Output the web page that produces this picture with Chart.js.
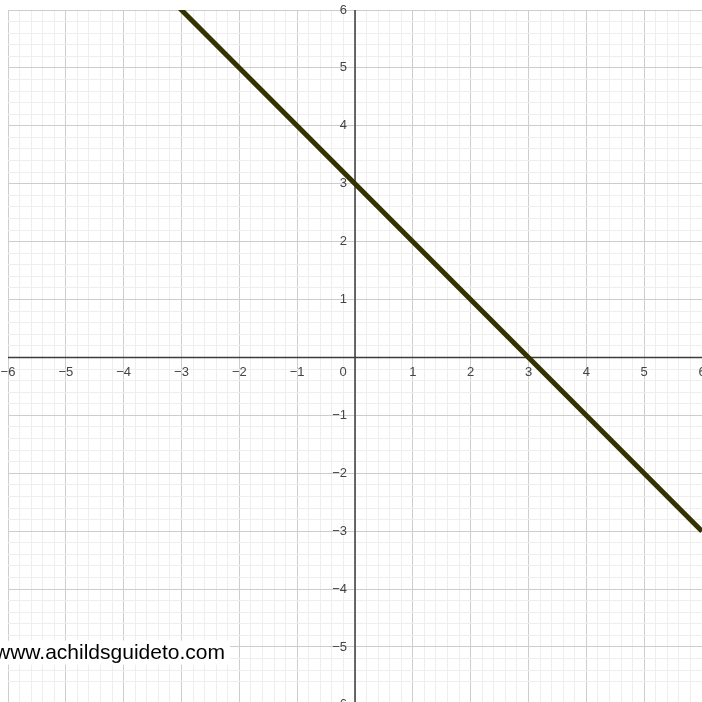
<!DOCTYPE html>
<html>
<head>
<meta charset="utf-8">
<script src="https://cdn.jsdelivr.net/npm/chart.js@4/dist/chart.umd.min.js"></script>
<style>
  html, body { margin: 0; padding: 0; background: #fff; }
  #wrap { width: 702px; height: 702px; }
</style>
</head>
<body>
<div id="wrap"><canvas id="graph" width="702" height="702"></canvas></div>
<script>
// line y = -x + 3
const xValues = [-6, -3, 0, 3, 6];
const yValues = [9, 6, 3, 0, -3];

// axis tick labels
const xTickLabels = [-6, -5, -4, -3, -2, -1, 1, 2, 3, 4, 5, 6];
const yTickLabels = [-6, -5, -4, -3, -2, -1, 1, 2, 3, 4, 5, 6];

const watermark = 'www.achildsguideto.com';

const isWhole = v => Math.abs(v - Math.round(v)) < 1e-9;
const fmt = v => (v < 0 ? '\u2212' + Math.abs(v) : String(v));

const gridColor = ctx => {
    const v = ctx.tick.value;
    if (isWhole(v)) return '#cdcdcd';
    return '#eeeeee';
};

// axes + labels under the line
const axesPlugin = {
    id: 'axes',
    beforeDatasetsDraw(chart) {
        const { ctx, chartArea, scales } = chart;
        const x0 = scales.x.getPixelForValue(0);
        const y0 = scales.y.getPixelForValue(0);
        ctx.save();
        ctx.strokeStyle = '#3c3c3c';
        ctx.lineWidth = 1.5;
        ctx.beginPath();
        ctx.moveTo(chartArea.left, y0);
        ctx.lineTo(chartArea.right, y0);
        ctx.moveTo(x0, chartArea.top);
        ctx.lineTo(x0, chartArea.bottom + 5);
        ctx.stroke();

        ctx.fillStyle = '#444';
        ctx.font = '13px "Liberation Sans", Arial, sans-serif';
        ctx.textAlign = 'center';
        ctx.textBaseline = 'middle';
        xTickLabels.forEach(v => {
            ctx.fillText(fmt(v), scales.x.getPixelForValue(v), y0 + 15);
        });
        ctx.fillText('0', x0 - 12, y0 + 15);

        ctx.textAlign = 'right';
        yTickLabels.forEach(v => {
            ctx.fillText(fmt(v), x0 - 8, scales.y.getPixelForValue(v));
        });
        ctx.restore();
    },
    afterDraw(chart) {
        const { ctx, scales } = chart;
        ctx.save();
        ctx.font = '21px "Liberation Sans", Arial, sans-serif';
        ctx.textBaseline = 'alphabetic';
        ctx.textAlign = 'left';
        const base = scales.y.getPixelForValue(-5.2);
        const w = ctx.measureText(watermark).width;
        ctx.fillStyle = '#fff';
        ctx.fillRect(-4, base - 18, w + 4, 24);
        ctx.fillStyle = '#000';
        ctx.fillText(watermark, -5, base);
        ctx.restore();
    }
};

new Chart(document.getElementById('graph'), {
    type: 'scatter',
    data: {
        datasets: [{
            data: xValues.map((x, i) => ({ x: x, y: yValues[i] })),
            showLine: true,
            borderColor: '#333300',
            borderWidth: 5,
            pointRadius: 0,
            clip: 0,
            tension: 0
        }]
    },
    options: {
        responsive: false,
        animation: false,
        devicePixelRatio: 1,
        layout: { padding: { left: 8, top: 10, right: 0, bottom: 0 } },
        plugins: {
            legend: { display: false },
            tooltip: { enabled: false }
        },
        scales: {
            x: {
                type: 'linear',
                min: -6,
                max: 6,
                ticks: { display: false, stepSize: 0.2, maxTicksLimit: 1000 },
                grid: { color: gridColor, lineWidth: 1, drawTicks: false },
                border: { display: false },
                afterFit: s => { s.height = 0; }
            },
            y: {
                type: 'linear',
                min: -5.95,
                max: 6,
                ticks: { display: false, stepSize: 0.2, maxTicksLimit: 1000 },
                grid: { color: gridColor, lineWidth: 1, drawTicks: false },
                border: { display: false },
                afterFit: s => { s.width = 0; }
            }
        }
    },
    plugins: [axesPlugin]
});
</script>
</body>
</html>
